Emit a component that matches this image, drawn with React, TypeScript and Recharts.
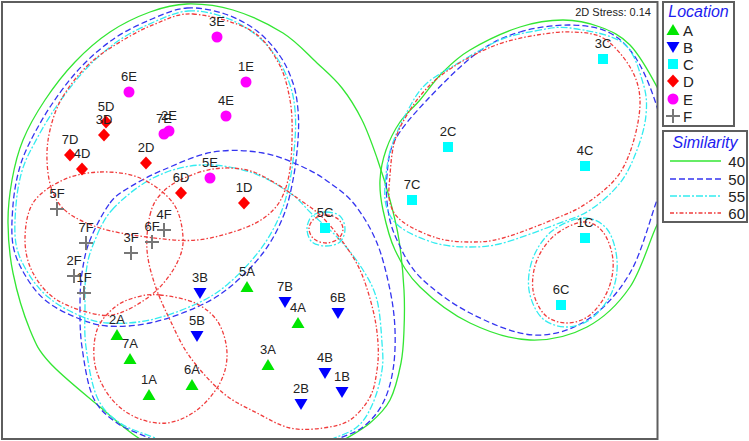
import React from 'react';
import { ScatterChart, Scatter, XAxis, YAxis, LabelList } from 'recharts';

// MDS sample scores (axis 1, axis 2)
const namesA = ['1A', '2A', '3A', '4A', '5A', '6A', '7A'];
const mds1A = [-1.81, -2.13, -0.62, -0.32, -0.83, -1.38, -2.0];
const mds2A = [-1.75, -1.15, -1.45, -1.03, -0.67, -1.65, -1.39];

const namesB = ['1B', '2B', '3B', '4B', '5B', '6B', '7B'];
const mds1B = [0.12, -0.29, -1.3, -0.05, -1.33, 0.08, -0.45];
const mds2B = [-1.72, -1.84, -0.73, -1.53, -1.16, -0.93, -0.82];

const namesC = ['1C', '2C', '3C', '4C', '5C', '6C', '7C'];
const mds1C = [2.55, 1.18, 2.73, 2.55, -0.05, 2.31, 0.82];
const mds2C = [-0.18, 0.73, 1.61, 0.54, -0.08, -0.85, 0.2];

const namesD = ['1D', '2D', '3D', '4D', '5D', '6D', '7D'];
const mds1D = [-0.86, -1.84, -2.26, -2.48, -2.24, -1.49, -2.6];
const mds2D = [0.17, 0.57, 0.85, 0.51, 0.98, 0.27, 0.65];

const namesE = ['1E', '2E', '3E', '4E', '5E', '6E', '7E'];
const mds1E = [-0.84, -1.61, -1.13, -1.04, -1.2, -2.01, -1.66];
const mds2E = [1.38, 0.89, 1.83, 1.04, 0.42, 1.28, 0.86];

const namesF = ['1F', '2F', '3F', '4F', '5F', '6F', '7F'];
const mds1F = [-2.46, -2.56, -1.99, -1.66, -2.73, -1.78, -2.44];
const mds2F = [-0.73, -0.56, -0.33, -0.1, 0.11, -0.22, -0.23];

const stressValue = 0.14;
const similarityLevels = [40, 50, 55, 60];

// similarity contours, traced as closed outlines (axis 1, axis 2)
const sim40Left = [
  [-1.43, 2.16], [-0.97, 2.1], [-0.47, 1.87], [-0.13, 1.57], [0.12, 1.32], [0.32, 1.0],
  [0.47, 0.62], [0.6, 0.2], [0.69, -0.2], [0.74, -0.7], [0.74, -1.1], [0.71, -1.43],
  [0.6, -1.8], [0.4, -2.03], [0.12, -2.21], [-0.3, -2.45], [-0.9, -2.55], [-1.5, -2.4],
  [-1.93, -2.17], [-2.3, -1.87], [-2.8, -1.43], [-3.0, -1.1], [-3.17, -0.53], [-3.22, -0.03],
  [-3.18, 0.4], [-3.07, 0.8], [-2.85, 1.2], [-2.55, 1.58], [-2.2, 1.88], [-1.8, 2.08],
];
const sim40Right = [
  [1.4, 1.7], [1.9, 1.93], [2.33, 2.0], [2.7, 1.93], [3.0, 1.75], [3.27, 1.33], [3.45, 0.9],
  [3.5, 0.5], [3.42, 0.15], [3.27, -0.05], [3.0, -0.67], [2.57, -1.07], [2.0, -1.2],
  [1.4, -1.03], [0.9, -0.67], [0.65, -0.3], [0.53, 0.1], [0.5, 0.4], [0.56, 0.7],
  [0.7, 0.98], [0.9, 1.2], [1.12, 1.47],
];
const sim50Top = [
  [-1.43, 2.12], [-1.05, 2.06], [-0.73, 1.89], [-0.5, 1.64], [-0.37, 1.37], [-0.32, 1.1],
  [-0.32, 0.8], [-0.37, 0.4], [-0.47, 0.03], [-0.67, -0.33], [-1.0, -0.67], [-1.33, -0.87],
  [-1.8, -1.03], [-2.23, -1.06], [-2.55, -0.97], [-2.85, -0.8], [-3.05, -0.55], [-3.17, -0.25],
  [-3.17, 0.15], [-3.11, 0.5], [-3.0, 0.78], [-2.78, 1.16], [-2.49, 1.53], [-2.15, 1.82],
  [-1.78, 2.01],
];
const sim50Bottom = [
  [-2.2, 0.17], [-2.0, 0.33], [-1.67, 0.5], [-1.17, 0.68], [-0.67, 0.67], [-0.27, 0.53],
  [0.0, 0.37], [0.25, 0.15], [0.47, -0.23], [0.6, -0.7], [0.65, -1.1], [0.63, -1.5],
  [0.53, -1.83], [0.33, -2.07], [0.03, -2.21], [-0.4, -2.42], [-1.0, -2.48], [-1.5, -2.38],
  [-1.77, -2.2], [-2.13, -2.03], [-2.37, -1.77], [-2.48, -1.27], [-2.5, -0.87],
  [-2.48, -0.53], [-2.4, -0.2],
];
const sim50Right = [
  [1.9, 1.88], [2.4, 1.95], [2.8, 1.87], [3.07, 1.6], [3.27, 1.13], [3.35, 0.7], [3.35, 0.4],
  [3.27, 0.2], [3.0, -0.53], [2.57, -1.0], [2.03, -1.15], [1.4, -0.93], [0.9, -0.57],
  [0.67, -0.2], [0.58, 0.1], [0.57, 0.45], [0.65, 0.8], [0.97, 1.2], [1.47, 1.67],
];
const sim55Top = [
  [-1.42, 2.09], [-1.06, 2.03], [-0.75, 1.86], [-0.53, 1.62], [-0.4, 1.35], [-0.35, 1.1],
  [-0.35, 0.8], [-0.4, 0.4], [-0.5, 0.05], [-0.7, -0.3], [-1.02, -0.64], [-1.34, -0.84],
  [-1.8, -1.0], [-2.23, -1.03], [-2.54, -0.94], [-2.82, -0.77], [-3.02, -0.53], [-3.14, -0.24],
  [-3.14, 0.15], [-3.08, 0.49], [-2.96, 0.76], [-2.74, 1.13], [-2.45, 1.5], [-2.12, 1.79],
  [-1.76, 1.98],
];
const sim55Bottom = [
  [-2.18, 0.1], [-1.77, 0.42], [-1.3, 0.55], [-0.8, 0.48], [-0.4, 0.27], [-0.18, 0.06],
  [0.1, -0.2], [0.33, -0.5], [0.47, -0.8], [0.52, -1.23], [0.52, -1.5], [0.43, -1.83],
  [0.27, -2.07], [-0.03, -2.21], [-0.4, -2.36], [-1.0, -2.42], [-1.5, -2.32], [-1.7, -2.2],
  [-2.1, -2.03], [-2.33, -1.77], [-2.44, -1.27], [-2.45, -0.87], [-2.44, -0.53], [-2.37, -0.25],
];
const sim555C = [
  [-0.04, 0.08], [0.1, 0.04], [0.15, -0.09], [0.1, -0.22], [-0.04, -0.26], [-0.18, -0.22],
  [-0.23, -0.09], [-0.18, 0.04],
];
const sim55Right = [
  [2.05, 1.89], [2.4, 1.92], [2.93, 1.77], [3.13, 1.37], [3.16, 1.05], [3.07, 0.7], [2.9, 0.37],
  [2.6, 0.1], [2.27, -0.04], [1.73, -0.23], [1.4, -0.27], [1.05, -0.23], [0.7, -0.07],
  [0.56, 0.15], [0.56, 0.45], [0.62, 0.75], [0.78, 1.1], [0.96, 1.36], [1.3, 1.58], [1.7, 1.8],
];
const sim551C6C = [
  [2.53, 0.02], [2.77, -0.09], [2.87, -0.4], [2.82, -0.72], [2.62, -0.98], [2.37, -1.07],
  [2.12, -0.98], [1.99, -0.7], [2.03, -0.38], [2.22, -0.11],
];
const sim60DE = [
  [-1.37, 2.06], [-0.8, 1.9], [-0.52, 1.58], [-0.4, 1.2], [-0.38, 0.8], [-0.42, 0.4],
  [-0.55, 0.12], [-0.83, -0.07], [-1.33, -0.2], [-1.83, -0.17], [-2.3, -0.08], [-2.63, 0.08],
  [-2.78, 0.3], [-2.83, 0.6], [-2.8, 0.9], [-2.68, 1.22], [-2.42, 1.55], [-2.1, 1.78],
  [-1.75, 1.96],
];
const sim60F = [
  [-2.3, 0.48], [-1.9, 0.42], [-1.57, 0.17], [-1.47, -0.17], [-1.53, -0.43], [-1.73, -0.7],
  [-2.03, -0.9], [-2.3, -0.95], [-2.73, -0.8], [-2.97, -0.53], [-3.05, -0.2], [-2.97, 0.17],
  [-2.67, 0.4],
];
const sim60AB = [
  [-1.8, 0.05], [-1.7, 0.25], [-1.5, 0.4], [-1.17, 0.51], [-0.83, 0.5], [-0.55, 0.37],
  [-0.3, 0.2], [-0.1, 0.05], [0.1, -0.18], [0.3, -0.5], [0.43, -0.9], [0.48, -1.23],
  [0.47, -1.5], [0.4, -1.77], [0.2, -2.0], [-0.07, -2.08], [-0.4, -2.08], [-0.73, -1.93],
  [-1.07, -1.73], [-1.4, -1.37], [-1.6, -1.0], [-1.75, -0.65], [-1.83, -0.3],
];
const sim60A = [
  [-1.7, -0.75], [-1.35, -0.83], [-1.12, -1.02], [-1.03, -1.33], [-1.1, -1.63], [-1.33, -1.9],
  [-1.63, -2.03], [-1.95, -1.97], [-2.2, -1.77], [-2.35, -1.45], [-2.33, -1.1], [-2.15, -0.87],
  [-1.93, -0.77],
];
const sim605C = [
  [-0.04, 0.05], [0.08, 0.01], [0.13, -0.09], [0.08, -0.19], [-0.04, -0.23], [-0.16, -0.19],
  [-0.21, -0.09], [-0.16, 0.01],
];
const sim60C = [
  [2.07, 1.85], [2.4, 1.88], [2.73, 1.82], [3.0, 1.53], [3.1, 1.2], [3.03, 0.77], [2.87, 0.43],
  [2.57, 0.17], [2.27, 0.02], [1.73, -0.18], [1.4, -0.22], [1.07, -0.18], [0.73, -0.02],
  [0.6, 0.17], [0.6, 0.45], [0.65, 0.8], [0.8, 1.1], [1.0, 1.35], [1.23, 1.53], [1.5, 1.68],
  [1.75, 1.78],
];
const sim601C6C = [
  [2.53, -0.02], [2.73, -0.12], [2.83, -0.4], [2.78, -0.7], [2.6, -0.95], [2.37, -1.03],
  [2.15, -0.95], [2.03, -0.7], [2.07, -0.4], [2.25, -0.15],
];

const toSamples = (names: string[], xs: number[], ys: number[]) =>
  names.map((name, i) => ({ name, x: xs[i], y: ys[i] }));
const toOutline = (pts: number[][]) => pts.map(([x, y]) => ({ x, y }));

// closed Catmull-Rom curve, passed to recharts as a custom curve factory
const closedSmooth = (ctx: any) => {
  let pts: number[][] = [];
  return {
    areaStart() {},
    areaEnd() {},
    lineStart() { pts = []; },
    point(x: number, y: number) { pts.push([x, y]); },
    lineEnd() {
      const n = pts.length;
      if (!n) return;
      ctx.moveTo(pts[0][0], pts[0][1]);
      for (let i = 0; i < n; i++) {
        const p0 = pts[(i - 1 + n) % n];
        const p1 = pts[i];
        const p2 = pts[(i + 1) % n];
        const p3 = pts[(i + 2) % n];
        ctx.bezierCurveTo(
          p1[0] + (p2[0] - p0[0]) / 6, p1[1] + (p2[1] - p0[1]) / 6,
          p2[0] - (p3[0] - p1[0]) / 6, p2[1] - (p3[1] - p1[1]) / 6,
          p2[0], p2[1],
        );
      }
      ctx.closePath();
    },
  };
};

const GREEN = '#00e600';
const BLUE = '#0000ff';
const CYAN = '#00ffff';
const RED = '#ff0000';
const MAGENTA = '#ff00ff';
const GREY = '#777777';

const levelStyle: Record<number, { stroke: string; dash?: string }> = {
  40: { stroke: '#33e633' },
  50: { stroke: '#3535f0', dash: '6 3' },
  55: { stroke: '#33ecf0', dash: '7 2 2 2' },
  60: { stroke: '#f03c3c', dash: '4 2 1.5 2' },
};

const contours: { level: number; pts: number[][] }[] = [
  { level: 40, pts: sim40Left },
  { level: 40, pts: sim40Right },
  { level: 50, pts: sim50Top },
  { level: 50, pts: sim50Bottom },
  { level: 50, pts: sim50Right },
  { level: 55, pts: sim55Top },
  { level: 55, pts: sim55Bottom },
  { level: 55, pts: sim555C },
  { level: 55, pts: sim55Right },
  { level: 55, pts: sim551C6C },
  { level: 60, pts: sim60DE },
  { level: 60, pts: sim60F },
  { level: 60, pts: sim60AB },
  { level: 60, pts: sim60A },
  { level: 60, pts: sim605C },
  { level: 60, pts: sim60C },
  { level: 60, pts: sim601C6C },
];

const NoDot = () => <g />;

const TriUp = ({ cx, cy }: any) => (
  <polygon points={`${cx},${cy - 6} ${cx + 6.5},${cy + 5} ${cx - 6.5},${cy + 5}`} fill={GREEN} />
);
const TriDown = ({ cx, cy }: any) => (
  <polygon points={`${cx - 6.5},${cy - 5} ${cx + 6.5},${cy - 5} ${cx},${cy + 6}`} fill={BLUE} />
);
const Square = ({ cx, cy }: any) => <rect x={cx - 5} y={cy - 5} width={10} height={10} fill={CYAN} />;
const Diamond = ({ cx, cy }: any) => (
  <polygon points={`${cx},${cy - 6.5} ${cx + 6},${cy} ${cx},${cy + 6.5} ${cx - 6},${cy}`} fill={RED} />
);
const Dot = ({ cx, cy }: any) => <circle cx={cx} cy={cy} r={5.5} fill={MAGENTA} />;
const Plus = ({ cx, cy }: any) => (
  <g stroke={GREY} strokeWidth={2}>
    <line x1={cx - 7} y1={cy} x2={cx + 7} y2={cy} />
    <line x1={cx} y1={cy - 7} x2={cx} y2={cy + 7} />
  </g>
);

const groups = [
  { key: 'A', data: toSamples(namesA, mds1A, mds2A), shape: TriUp },
  { key: 'B', data: toSamples(namesB, mds1B, mds2B), shape: TriDown },
  { key: 'C', data: toSamples(namesC, mds1C, mds2C), shape: Square },
  { key: 'D', data: toSamples(namesD, mds1D, mds2D), shape: Diamond },
  { key: 'E', data: toSamples(namesE, mds1E, mds2E), shape: Dot },
  { key: 'F', data: toSamples(namesF, mds1F, mds2F), shape: Plus },
];

function Legends() {
  const rowY = [30, 47, 64, 81, 99, 116];
  const simY = [161, 179, 196, 213];
  const mk = [TriUp, TriDown, Square, Diamond, Dot, Plus];
  return (
    <svg width={749} height={441} style={{ position: 'absolute', left: 0, top: 0, pointerEvents: 'none' }}>
      <rect x={2} y={2} width={655.5} height={437} fill="none" stroke="#5e5e5e" strokeWidth={2} />
      <text x={651} y={16} textAnchor="end" fontSize={11} fill="#222">
        2D Stress: {stressValue}
      </text>
      <rect x={663} y={2} width={71} height={124} fill="#fff" stroke="#5e5e5e" strokeWidth={2} />
      <text x={698.5} y={17} textAnchor="middle" fontSize={16} fontStyle="italic" fill="#1c1cf0">
        Location
      </text>
      {groups.map((g, i) => {
        const M = mk[i];
        return (
          <g key={g.key}>
            <M cx={673} cy={rowY[i]} />
            <text x={683} y={rowY[i] + 5.5} fontSize={15} fill="#222">{g.key}</text>
          </g>
        );
      })}
      <rect x={663} y={131} width={84} height={91} fill="#fff" stroke="#5e5e5e" strokeWidth={2} />
      <text x={705} y={148} textAnchor="middle" fontSize={16} fontStyle="italic" fill="#1c1cf0">
        Similarity
      </text>
      {similarityLevels.map((lv, i) => (
        <g key={lv}>
          <line x1={670} x2={721} y1={simY[i]} y2={simY[i]} stroke={levelStyle[lv].stroke}
            strokeWidth={1.3} strokeDasharray={levelStyle[lv].dash} />
          <text x={745} y={simY[i] + 5.5} textAnchor="end" fontSize={15} fill="#222">{lv}</text>
        </g>
      ))}
    </svg>
  );
}

export default function App() {
  return (
    <div style={{ position: 'absolute', left: 0, top: 0, width: 749, height: 441, background: '#fff',
      fontFamily: '"Liberation Sans", Arial, sans-serif' }}>
      <ScatterChart width={749} height={441} margin={{ top: 2, right: 92, bottom: 2, left: 2 }}>
        <XAxis type="number" dataKey="x" domain={[-3.28, 3.27]} allowDataOverflow hide />
        <YAxis type="number" dataKey="y" domain={[-2.19, 2.18]} allowDataOverflow hide />
        {contours.map((c, i) => (
          <Scatter
            key={`c${i}`}
            data={toOutline(c.pts)}
            shape={NoDot}
            fill={levelStyle[c.level].stroke}
            line={{ stroke: levelStyle[c.level].stroke, strokeWidth: 1.3, strokeDasharray: levelStyle[c.level].dash }}
            lineJointType={closedSmooth as any}
            isAnimationActive={false}
          />
        ))}
        {groups.map((g) => (
          <Scatter key={g.key} data={g.data} shape={g.shape} isAnimationActive={false}>
            <LabelList dataKey="name" position="top" offset={6} fill="#222" fontSize={13} />
          </Scatter>
        ))}
      </ScatterChart>
      <Legends />
    </div>
  );
}
